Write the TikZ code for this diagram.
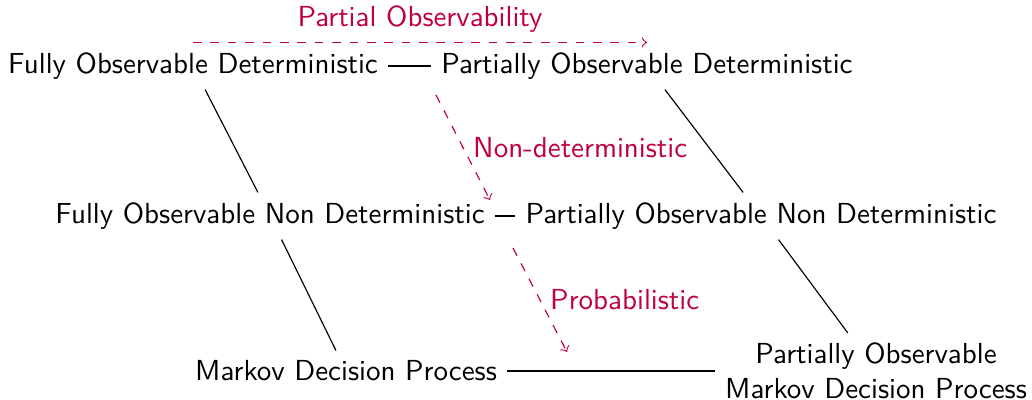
\documentclass[tikz,border=0pt]{standalone}
\usepackage{xcolor}
\tikzset{
  state/.style={font=\sffamily},
  change/.style={purple,dashed,->},
  changelabel/.style={purple,font=\sffamily}
}
\begin{document}
\begin{tikzpicture}[x=0.345pt,y=-0.345pt]
	\useasboundingbox (0,0) rectangle (1032,400);
	% problem classes
	\node[state] (fod) at (193,66) {Fully Observable Deterministic};
	\node[state] (pod) at (647,66) {Partially Observable Deterministic};
	\node[state] (fond) at (270,216) {Fully Observable Non Deterministic};
	\node[state] (pond) at (761,216) {Partially Observable Non Deterministic};
	\node[state] (mdp) at (346,371) {Markov Decision Process};
	\node[state,align=center] (pomdp) at (876,371) {Partially Observable\\Markov Decision Process};
	% relations
	\draw (fod) -- (pod);
	\draw (fond) -- (pond);
	\draw (mdp) -- (pomdp);
	\draw (fod) -- (fond);
	\draw (fond) -- (mdp);
	\draw (pod) -- (pond);
	\draw (pond) -- (pomdp);
	% generalisations
	\coordinate (nd start) at (436,95);
	\coordinate (nd end) at (490,200);
	\coordinate (pr start) at (513,248);
	\coordinate (pr end) at (567,352);
	\draw[change] (fod.north) -- (pod.north)
		node[midway,above,changelabel] {Partial Observability};
	\draw[change] (nd start) -- (nd end)
		node[midway,right,changelabel] {Non-deterministic};
	\draw[change] (pr start) -- (pr end)
		node[midway,right,changelabel] {Probabilistic};
\end{tikzpicture}
\end{document}
